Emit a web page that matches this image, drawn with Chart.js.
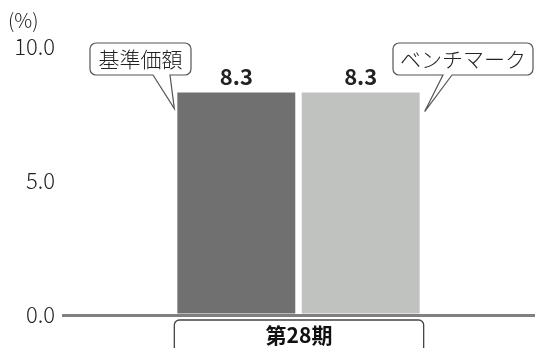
<!DOCTYPE html>
<html>
<head>
<meta charset="utf-8">
<script src="https://cdn.jsdelivr.net/npm/chart.js@4.4.1/dist/chart.umd.min.js"></script>
<style>
  html, body { margin: 0; padding: 0; background: #fff; }
</style>
</head>
<body>
<canvas id="chart" width="535" height="348"></canvas>
<script>
// data
const categories = ['第28期'];
const seriesNames = ['基準価額', 'ベンチマーク'];
const fundValues = [8.3];
const benchValues = [8.3];
const yTicks = [0, 5, 10];
const unitLabel = '(%)';

const FONT = '"Noto Sans CJK JP", "Noto Sans", sans-serif';
const TEXT = '#222';

// speech-bubble box with a tail on its bottom edge
function callout(ctx, x, y, w, h, r, b1, b2, tx, ty) {
  ctx.beginPath();
  ctx.moveTo(x + r, y);
  ctx.lineTo(x + w - r, y);
  ctx.arcTo(x + w, y, x + w, y + r, r);
  ctx.lineTo(x + w, y + h - r);
  ctx.arcTo(x + w, y + h, x + w - r, y + h, r);
  ctx.lineTo(b2, y + h);
  ctx.lineTo(tx, ty);
  ctx.lineTo(b1, y + h);
  ctx.lineTo(x + r, y + h);
  ctx.arcTo(x, y + h, x, y + h - r, r);
  ctx.lineTo(x, y + r);
  ctx.arcTo(x, y, x + r, y, r);
  ctx.closePath();
  ctx.fillStyle = '#fff';
  ctx.fill();
  ctx.strokeStyle = '#555';
  ctx.lineWidth = 1.2;
  ctx.stroke();
}

function roundBox(ctx, x, y, w, h, r) {
  ctx.beginPath();
  ctx.moveTo(x + r, y);
  ctx.lineTo(x + w - r, y);
  ctx.arcTo(x + w, y, x + w, y + r, r);
  ctx.lineTo(x + w, y + h);
  ctx.lineTo(x, y + h);
  ctx.lineTo(x, y + r);
  ctx.arcTo(x, y, x + r, y, r);
  ctx.closePath();
}

const extras = {
  id: 'extras',
  afterDraw(chart) {
    const ctx = chart.ctx;
    const area = chart.chartArea;
    const b0 = chart.getDatasetMeta(0).data[0];
    const b1 = chart.getDatasetMeta(1).data[0];
    ctx.save();

    // unit
    ctx.font = '300 20px ' + FONT;
    ctx.fillStyle = TEXT;
    ctx.textAlign = 'left';
    ctx.textBaseline = 'middle';
    ctx.fillText(unitLabel, 8, 20);

    // value labels
    ctx.font = 'bold 22px ' + FONT;
    ctx.textAlign = 'center';
    ctx.textBaseline = 'middle';
    [b0, b1].forEach((bar, i) => {
      const v = chart.data.datasets[i].data[0];
      ctx.fillText(v.toFixed(1), bar.x, bar.y - 16);
    });

    // series callouts
    const l0 = b0.x - b0.width / 2;
    const r1 = b1.x + b1.width / 2;
    callout(ctx, 90, 43, 101, 32, 6, 153, 170, l0 - 3, b0.y + 16);
    callout(ctx, 393, 43, 140, 32, 6, 443, 452, r1 + 5, b1.y + 19);
    ctx.font = '300 21px ' + FONT;
    ctx.fillStyle = TEXT;
    ctx.fillText(seriesNames[0], 140.5, 59);
    ctx.fillText(seriesNames[1], 463, 59);

    // category box
    const bx = l0 - 3;
    const bw = r1 + 4 - bx;
    roundBox(ctx, bx, area.bottom + 5, bw, 40, 5);
    ctx.strokeStyle = '#444';
    ctx.lineWidth = 1.3;
    ctx.stroke();
    ctx.font = 'bold 21px ' + FONT;
    ctx.fillStyle = '#111';
    ctx.fillText(categories[0], bx + bw / 2, area.bottom + 20);

    ctx.restore();
  }
};

new Chart(document.getElementById('chart'), {
  type: 'bar',
  data: {
    labels: categories,
    datasets: [
      {
        label: seriesNames[0],
        data: fundValues,
        backgroundColor: '#707070',
        categoryPercentage: 0.526,
        barPercentage: 0.948,
      },
      {
        label: seriesNames[1],
        data: benchValues,
        backgroundColor: '#c0c2c0',
        categoryPercentage: 0.526,
        barPercentage: 0.948,
      },
    ],
  },
  options: {
    responsive: false,
    animation: false,
    devicePixelRatio: 1,
    layout: { padding: { top: 47, bottom: 33, left: 0, right: 0 } },
    scales: {
      x: { display: false },
      y: {
        min: 0,
        max: 10,
        afterBuildTicks(scale) {
          scale.ticks = yTicks.map(v => ({ value: v }));
        },
        afterFit(scale) { scale.width = 62; },
        border: { display: false },
        grid: {
          drawTicks: false,
          lineWidth: 3,
          color: c => (c.tick && c.tick.value === 0 ? '#808080' : 'rgba(0,0,0,0)'),
        },
        ticks: {
          padding: 7,
          color: TEXT,
          font: { family: FONT, size: 22, weight: '300' },
          callback: v => Number(v).toFixed(1),
        },
      },
    },
    plugins: {
      legend: { display: false },
      tooltip: { enabled: false },
    },
  },
  plugins: [extras],
});
</script>
</body>
</html>
